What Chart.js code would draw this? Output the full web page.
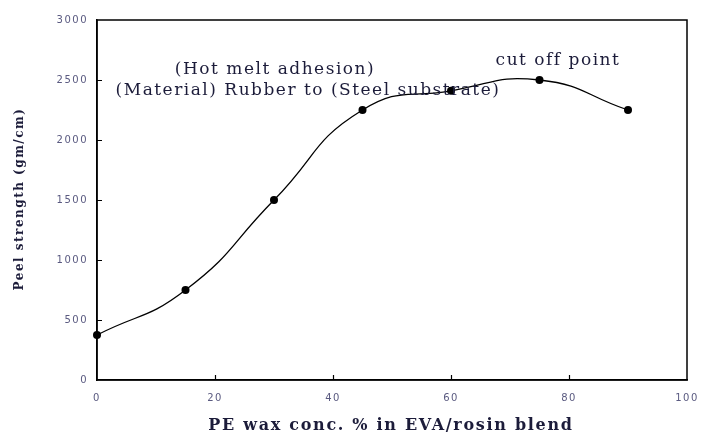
<!DOCTYPE html>
<html>
<head>
<meta charset="utf-8">
<script src="https://cdn.jsdelivr.net/npm/chart.js@4/dist/chart.umd.min.js"></script>
<style>
  html, body { margin: 0; padding: 0; background: #fff; }
  #wrap { width: 702px; height: 436px; }
</style>
</head>
<body>
<div id="wrap"><canvas id="c" width="702" height="436"></canvas></div>
<script>
// PE wax concentration (%) and resulting peel strength (gm/cm)
const waxConc = [0, 15, 30, 45, 60, 75, 90];
const peelStrength = [375, 750, 1500, 2250, 2410, 2500, 2250];
const xTicks = [0, 20, 40, 60, 80, 100];
const yTicks = [0, 500, 1000, 1500, 2000, 2500, 3000];

const xTitle = 'PE wax conc. % in EVA/rosin blend';
const yTitle = 'Peel strength (gm/cm)';
const notes = [
  { text: '(Hot melt adhesion)', x: 275, y: 70 },
  { text: '(Material) Rubber to (Steel substrate)', x: 308, y: 91 },
  { text: 'cut off point', x: 558, y: 61 }
];

// Frame, inward tick marks, axis titles and text notes
const decor = {
  id: 'decor',
  beforeDraw(chart) {
    chart.ctx.letterSpacing = '1.5px';
  },
  afterDraw(chart) {
    const ctx = chart.ctx;
    const a = chart.chartArea;
    const xs = chart.scales.x, ys = chart.scales.y;
    ctx.save();
    ctx.strokeStyle = '#000';
    ctx.lineWidth = 1.5;
    ctx.strokeRect(a.left, a.top, a.right - a.left, a.bottom - a.top);
    ctx.lineWidth = 1.2;
    ctx.beginPath();
    yTicks.forEach(v => {
      const p = Math.round(ys.getPixelForValue(v)) + 0.5;
      if (v > 0 && v < 3000) { ctx.moveTo(a.left, p); ctx.lineTo(a.left + 5, p); }
    });
    xTicks.forEach(v => {
      const p = Math.round(xs.getPixelForValue(v)) + 0.5;
      if (v > 0 && v < 100) { ctx.moveTo(p, a.bottom); ctx.lineTo(p, a.bottom - 5); }
    });
    ctx.stroke();

    ctx.fillStyle = '#1c1c3a';
    ctx.textAlign = 'center';
    ctx.textBaseline = 'middle';
    ctx.font = 'bold 16px "DejaVu Serif"';
    ctx.letterSpacing = '1.7px';
    ctx.fillText(xTitle, 391, 426);

    ctx.save();
    ctx.translate(20, 199);
    ctx.rotate(-Math.PI / 2);
    ctx.font = 'bold 12px "DejaVu Serif"';
    ctx.letterSpacing = '1.5px';
    ctx.fillText(yTitle, 0, 0);
    ctx.restore();

    ctx.font = '17px "DejaVu Serif"';
    ctx.letterSpacing = '1.5px';
    notes.forEach(n => ctx.fillText(n.text, n.x, n.y));
    ctx.restore();
    ctx.letterSpacing = '0px';
  }
};

new Chart(document.getElementById('c'), {
  type: 'line',
  data: {
    datasets: [{
      data: waxConc.map((x, i) => ({ x, y: peelStrength[i] })),
      borderColor: '#000',
      backgroundColor: '#000',
      borderWidth: 1.3,
      pointRadius: 4,
      pointBackgroundColor: '#000',
      pointBorderWidth: 0,
      tension: 0.5,
      clip: false
    }]
  },
  options: {
    responsive: false,
    animation: false,
    devicePixelRatio: 1,
    layout: { padding: { left: 0, top: 20, right: 15, bottom: 0 } },
    plugins: { legend: { display: false }, tooltip: { enabled: false } },
    scales: {
      x: {
        type: 'linear', min: 0, max: 100,
        afterFit(s) { s.height = 56; s.paddingLeft = 0; s.paddingRight = 0; },
        afterBuildTicks(s) { s.ticks = xTicks.map(v => ({ value: v })); },
        grid: { display: false, drawTicks: false },
        border: { display: true, color: '#000', width: 1.5 },
        ticks: { padding: 12, color: '#5a5a80', font: { family: 'DejaVu Sans', size: 10 },
                 callback: v => String(v) }
      },
      y: {
        min: 0, max: 3000,
        afterFit(s) { s.width = 97; s.paddingTop = 0; s.paddingBottom = 0; },
        afterBuildTicks(s) { s.ticks = yTicks.map(v => ({ value: v })); },
        grid: { display: false, drawTicks: false },
        border: { display: true, color: '#000', width: 1.5 },
        ticks: { padding: 9, color: '#5a5a80', font: { family: 'DejaVu Sans', size: 10 },
                 callback: v => String(v) }
      }
    }
  },
  plugins: [decor]
});
</script>
</body>
</html>
